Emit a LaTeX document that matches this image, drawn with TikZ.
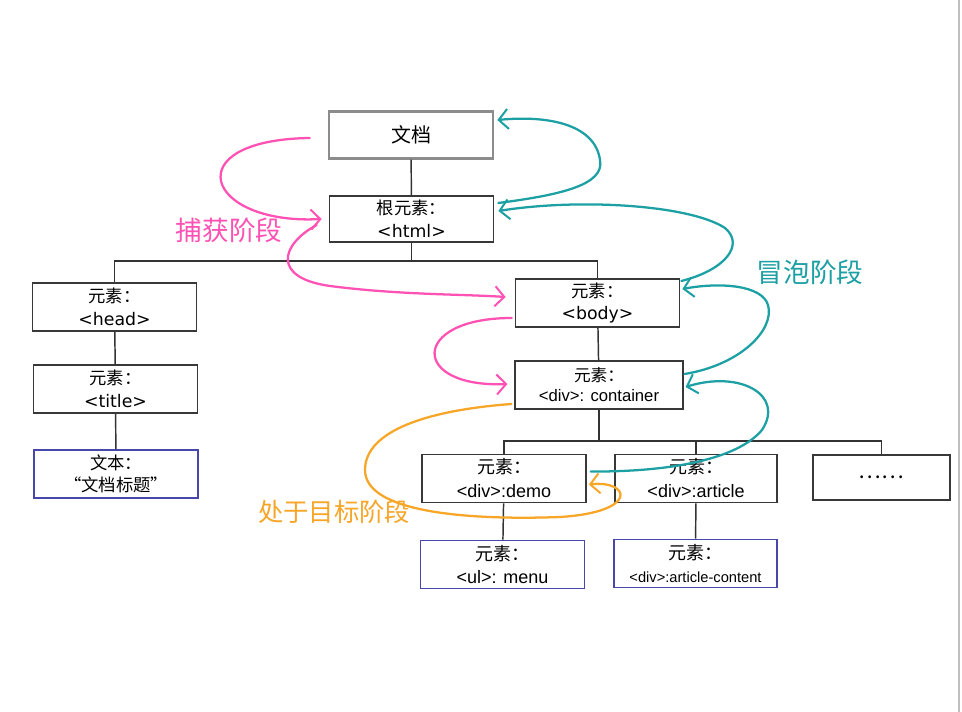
\documentclass[tikz,border=0pt]{standalone}
\usepackage{fontspec}
\setmainfont{Noto Sans CJK SC}
\newfontfamily\widelatin{DejaVu Sans}
\newfontfamily\arialatin{Liberation Sans}
\usetikzlibrary{arrows.meta,calc}
\definecolor{capturepink}{RGB}{255,82,180}
\definecolor{bubbleteal}{RGB}{28,160,164}
\definecolor{targetorange}{RGB}{247,166,40}
\definecolor{leafblue}{RGB}{72,72,172}
\newcommand{\tagw}[1]{{\widelatin\fontsize{13}{17}\selectfont #1}}
\newcommand{\taga}[2][13.5]{{\arialatin\fontsize{#1}{17}\selectfont #2}}
\tikzset{
  elem/.style={draw=black!78,line width=1.3pt,minimum width=123pt,minimum height=36pt,
    align=center,inner sep=0pt,font=\fontsize{13}{17}\selectfont},
  docbox/.style={elem,draw=black!45,line width=2pt,minimum height=35pt,font=\fontsize{15}{17}\selectfont},
  leafbox/.style={elem,draw=leafblue},
  smallbox/.style={elem,line width=0.9pt,font=\fontsize{12.5}{15}\selectfont},
  tree/.style={black!80,line width=1.1pt},
  phase/.style={line width=1.7pt,line cap=round,-{Straight Barb[length=7pt,width=15pt,line width=1.5pt]}},
  phaselabel/.style={font=\fontsize{20}{22}\selectfont}
}
\begin{document}
\begin{tikzpicture}[x=0.75pt,y=-0.75pt]
\useasboundingbox (0,0) rectangle (962,712);
\fill[white] (0,0) rectangle (962,712);
\draw[black!25,line width=1pt] (959,0) -- (959,712);
% boxes
\node[docbox] (doc) at (411,135) {文档};
\node[elem,minimum height=35pt] (html) at (411.5,219) {根元素：\\\tagw{<html>}};
\node[elem] (head) at (114.5,307) {元素：\\\tagw{<head>}};
\node[elem] (title) at (115.5,389) {元素：\\\tagw{<title>}};
\node[leafbox] (text) at (116,474) {文本：\\“文档标题”};
\node[elem] (body) at (597.5,303) {元素：\\\tagw{<body>}};
\node[smallbox,minimum width=126pt] (container) at (599,385) {元素：\\\taga[12.5]{<div>: container}};
\node[elem,font=\fontsize{13.5}{18}\selectfont] (demo) at (504,478.5) {元素：\\\taga{<div>:demo}};
\node[elem,minimum width=121.5pt,font=\fontsize{13.5}{18}\selectfont] (article) at (696,478.5) {元素：\\\taga{<div>:article}};
\node[elem,minimum width=103pt,minimum height=34pt,font=\fontsize{16}{18}\selectfont] (dots) at (881.5,477.5) {……};
\node[leafbox,font=\fontsize{13.5}{17}\selectfont] (menu) at (502.5,564.5) {元素：\\\taga[13.5]{<ul>: menu}};
\node[leafbox,minimum width=122pt,font=\fontsize{13.5}{17}\selectfont] (content) at (695.5,563.5) {元素：\\\taga[11]{<div>:article-content}};
% tree lines
\coordinate (bar1) at (0,261);
\coordinate (bar2) at (0,441);
\draw[tree] (doc) -- (html);
\draw[tree] (html.south) -- (html.south |- bar1);
\draw[tree] (head.north) |- (body.north |- bar1) -- (body.north);
\draw[tree] (head) -- (title);
\draw[tree] (title) -- (text);
\draw[tree] (body) -- (container);
\draw[tree] (container.south) -- (container.south |- bar2);
\draw[tree] (demo.north) |- (dots.north |- bar2) -- (dots.north);
\draw[tree] (article.north) -- (article.north |- bar2);
\draw[tree] (demo) -- (menu);
\draw[tree] (article) -- (content);
% capture
\draw[phase,capturepink] ($(doc.west)+(-18,3)$) .. controls (175,140) and (205,225) .. ($(html.west)+(-7,0)$);
\draw[phase,capturepink] ($(html.west)+(-12,6)$) .. controls (280,245) and (272,278) .. (330,286)
  .. controls (400,295) and (460,294) .. ($(body.west)+(-9,-6)$);
\draw[phase,capturepink] ($(body.west)+(-3,15)$) .. controls (410,318) and (410,388) .. ($(container.west)+(-7,-1)$);
\node[phaselabel,text=capturepink] (capture) at (229,230) {捕获阶段};
% bubble
\draw[phase,bubbleteal] ($(demo.east)+(4,-7)$) .. controls (660,472) and (735,462) .. (762,430)
  .. controls (785,395) and (740,370) .. ($(container.east)+(2,2)$);
\draw[phase,bubbleteal] ($(container.east)+(1,-11)$) .. controls (740,365) and (775,330) .. (768,305)
  .. controls (762,285) and (720,282) .. ($(body.east)+(2,-14)$);
\draw[phase,bubbleteal] ($(body.east)+(1,-22)$) .. controls (725,270) and (745,245) .. (725,228)
  .. controls (690,205) and (580,198) .. ($(html.east)+(4,-8)$);
\draw[phase,bubbleteal] ($(html.east)+(4,-16)$) .. controls (560,195) and (605,185) .. (600,160)
  .. controls (595,125) and (550,115) .. ($(doc.east)+(3,-15)$);
\node[phaselabel,text=bubbleteal] (bubble) at (810,272) {冒泡阶段};
% target
\draw[phase,targetorange] ($(container.west)+(-3,19)$) .. controls (430,410) and (365,430) .. (365,470)
  .. controls (365,515) and (480,520) .. (560,517)
  .. controls (640,512) and (630,480) .. ($(demo.east)+(2,6)$);
\node[phaselabel,text=targetorange,font=\fontsize{19}{22}\selectfont] (target) at (334,512) {处于目标阶段};
\end{tikzpicture}
\end{document}
